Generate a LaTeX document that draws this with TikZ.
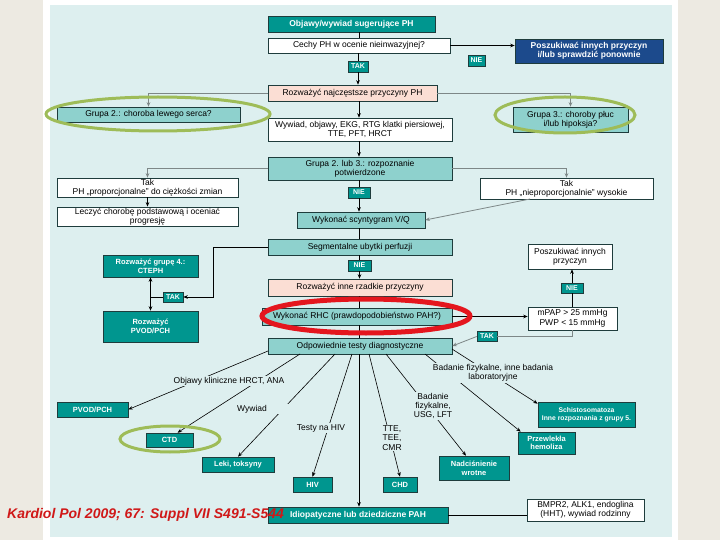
\documentclass[tikz,border=0pt]{standalone}
\usepackage{fontspec}
\setmainfont{Liberation Sans}
\usetikzlibrary{arrows.meta,calc}
\definecolor{bgc}{RGB}{221,239,239}
\definecolor{beige}{RGB}{237,234,226}
\definecolor{tealc}{RGB}{0,150,143}
\definecolor{ltealc}{RGB}{142,209,205}
\definecolor{pinkc}{RGB}{251,222,212}
\definecolor{dbluec}{RGB}{28,74,140}
\definecolor{bordc}{RGB}{30,60,60}
\definecolor{grayc}{RGB}{125,135,135}
\definecolor{greenc}{RGB}{158,188,88}
\definecolor{redc}{RGB}{228,22,30}
\definecolor{citec}{RGB}{208,24,24}
\newcommand{\regf}{\fontsize{8.5}{9.2}\selectfont}
\newcommand{\boldf}{\fontsize{8.5}{9.5}\selectfont\bfseries}
\newcommand{\smallbf}{\fontsize{7.5}{8.6}\selectfont\bfseries}
\tikzset{
 bx/.style={draw=bordc, line width=0.6pt, inner sep=1pt, align=center, font=\regf},
 wbox/.style={bx, fill=white},
 lbox/.style={bx, fill=ltealc},
 pbox/.style={bx, fill=pinkc},
 tbox/.style={bx, fill=tealc, text=white, font=\boldf},
 sbox/.style={bx, fill=tealc, text=white, font=\smallbf},
 bbox/.style={bx, fill=dbluec, text=white, font=\boldf},
 lab/.style={bx, fill=tealc, text=white, font=\fontsize{7}{7.5}\selectfont\bfseries, inner sep=0pt},
 flab/.style={fill=bgc, inner sep=1pt, align=center, font=\regf},
 arr/.style={-{Stealth[length=4.5pt,width=3.6pt]}},
 darr/.style={{Stealth[length=4.5pt,width=3.6pt]}-{Stealth[length=4.5pt,width=3.6pt]}},
 gl/.style={draw=grayc, line width=0.8pt},
 bl/.style={draw=black, line width=0.6pt},
}
\begin{document}
\begin{tikzpicture}[x=1pt,y=-1pt]
\useasboundingbox (0,0) rectangle (720,540);
\fill[white] (0,0) rectangle (720,540);
\fill[beige] (0,0) rectangle (43,540);
\fill[beige] (678,0) rectangle (720,540);
\fill[bgc] (50,5) rectangle (672,537);

% ---------- boxes ----------
\node[tbox, minimum width=167, minimum height=16] (obj) at (351.5,24) {Objawy/wywiad sugerujące PH};
\node[wbox, minimum width=182, minimum height=15] (cechy) at (359,45.5) {Cechy PH w ocenie nieinwazyjnej?};
\node[bbox, minimum width=148, minimum height=24] (blue) at (589,51) {Poszukiwać innych przyczyn\\i/lub sprawdzić ponownie};
\node[lab, minimum width=17, minimum height=11] (nie1) at (476.5,60.5) {NIE};
\node[lab, minimum width=20, minimum height=11] (tak1) at (358,66.5) {TAK};
\node[pbox, minimum width=169, minimum height=16] (rozw) at (352.5,93) {Rozważyć najczęstsze przyczyny PH};
\node[lbox, minimum width=183, minimum height=15] (g2) at (148.5,114.5) {Grupa 2.: choroba lewego serca?};
\node[lbox, minimum width=115, minimum height=25] (g3) at (570.5,119.5) {Grupa 3.: choroby płuc\\i/lub hipoksja?};
\node[wbox, minimum width=184, minimum height=23] (wyw) at (360,129.5) {Wywiad, objawy, EKG, RTG klatki piersiowej,\\TTE, PFT, HRCT};
\node[lbox, minimum width=184, minimum height=23] (g23) at (360,168.5) {Grupa 2. lub 3.: rozpoznanie\\potwierdzone};
\node[wbox, minimum width=181, minimum height=19] (tprop) at (147.5,187.5) {Tak\\PH „proporcjonalne” do ciężkości zmian};
\node[wbox, minimum width=181, minimum height=19] (lecz) at (147.5,216.5) {Leczyć chorobę podstawową i oceniać\\progresję};
\node[lab, minimum width=22, minimum height=11] (nie2) at (359,192.5) {NIE};
\node[lbox, minimum width=128, minimum height=16] (vq) at (361,220) {Wykonać scyntygram V/Q};
\node[wbox, minimum width=173, minimum height=21] (tnie) at (566.5,188.5) {Tak\\PH „nieproporcjonalnie” wysokie};
\node[lbox, minimum width=184, minimum height=16] (segm) at (360,247) {Segmentalne ubytki perfuzji};
\node[sbox, minimum width=95, minimum height=22] (cteph) at (150.5,266) {Rozważyć grupę 4.:\\CTEPH};
\node[sbox, minimum width=95, minimum height=31] (pvod) at (150.5,326.5) {Rozważyć\\PVOD/PCH};
\node[lab, minimum width=20, minimum height=10] (tak2) at (173,297) {TAK};
\node[lab, minimum width=23, minimum height=11] (nie3) at (359.5,265.5) {NIE};
\node[pbox, minimum width=184, minimum height=17] (rzad) at (360,287.5) {Rozważyć inne rzadkie przyczyny};
\node[lbox, minimum width=190, minimum height=17] (rhc) at (357,316.5) {Wykonać RHC (prawdopodobieństwo PAH?)};
\node[wbox, minimum width=89, minimum height=23] (mpap) at (572.5,318.5) {mPAP > 25 mmHg\\PWP < 15 mmHg};
\node[lab, minimum width=22, minimum height=10] (nie4) at (572,288) {NIE};
\node[wbox, minimum width=84, minimum height=25] (posz2) at (570,256.5) {Poszukiwać innych\\przyczyn};
\node[lab, minimum width=20, minimum height=10] (tak3) at (487,336.5) {TAK};
\node[lbox, minimum width=184, minimum height=16] (odp) at (360,346) {Odpowiednie testy diagnostyczne};
\node[sbox, minimum width=71, minimum height=15] (pvodb) at (92.5,409.5) {PVOD/PCH};
\node[sbox, minimum width=47, minimum height=14] (ctd) at (169.5,440) {CTD};
\node[sbox, minimum width=72, minimum height=15] (leki) at (238,464.5) {Leki, toksyny};
\node[sbox, minimum width=39, minimum height=15] (hiv) at (312.5,484.5) {HIV};
\node[sbox, minimum width=34, minimum height=15] (chd) at (400,484.5) {CHD};
\node[sbox, minimum width=70, minimum height=24] (nadc) at (474,468) {Nadciśnienie\\wrotne};
\node[sbox, minimum width=57, minimum height=22] (hemo) at (546.5,443) {Przewlekła\\hemoliza};
\node[sbox, font=\fontsize{6.8}{8.4}\selectfont\bfseries, minimum width=97, minimum height=25] (schi) at (586.5,414.5) {Schistosomatoza\\Inne rozpoznania z grupy 5.};
\node[tbox, minimum width=180, minimum height=16] (idio) at (358,515) {Idiopatyczne lub dziedziczne PAH};
\node[wbox, minimum width=117, minimum height=22] (bmpr) at (585.5,510) {BMPR2, ALK1, endoglina\\(HHT), wywiad rodzinny};

% ---------- helper coordinates ----------
\coordinate (cx) at (359,0);
\coordinate (tnA) at (530,199);
\coordinate (k1) at (213,247);
\coordinate (s1) at (268,351);
\coordinate (s2) at (300,354);
\coordinate (s3) at (335,354);
\coordinate (s4) at (352,354);
\coordinate (s5) at (369,354);
\coordinate (s6) at (386,354);
\coordinate (s7) at (425,354);
\coordinate (s8) at (452,349);

% ---------- connectors ----------
\draw[bl] (obj.south -| cx) -- (cechy.north -| cx);
\draw[bl] (cechy.south -| tak1) -- (tak1.north);
\draw[bl,arr] (tak1.south) -- (rozw.north -| tak1);
\draw[bl,arr] (cechy.east) -- (cechy.east -| blue.west);
\draw[gl,arr] (rozw.west) -| (g2.north);
\draw[gl,arr] (rozw.east) -| (g3.north);
\draw[bl,arr] (rozw.south -| cx) -- (wyw.north -| cx);
\draw[bl,arr] (wyw.south -| cx) -- (g23.north -| cx);
\draw[gl,arr] (g23.west) -| (tprop.north);
\draw[gl,arr] (g23.east) -| (tnie.north);
\draw[bl,arr] (tprop.south) -- (lecz.north);
\draw[bl] (g23.south -| nie2) -- (nie2.north);
\draw[bl,arr] (nie2.south) -- (vq.north -| nie2);
\draw[gl,arr] (tnA) -- (vq.east);
\draw[bl] (vq.south -| cx) -- (segm.north -| cx);
\draw[bl,arr] (segm.west) -- (k1) |- (tak2.east);
\draw[bl] (tak2.west) -- (tak2.west -| cteph.south);
\draw[bl,darr] (cteph.south) -- (pvod.north);
\draw[bl] (segm.south -| nie3) -- (nie3.north);
\draw[bl,arr] (nie3.south) -- (rzad.north -| nie3);
\draw[bl] (rzad.south -| cx) -- (rhc.north -| cx);
\draw[bl] (rhc.south -| cx) -- (odp.north -| cx);
\draw[bl,arr] (rhc.east) -- (rhc.east -| mpap.west);
\draw[bl] (mpap.north -| nie4) -- (nie4.south);
\draw[bl,arr] (nie4.north) -- (posz2.south -| nie4);
\draw[gl] (mpap.south) |- (tak3.east);
\draw[gl,arr] (tak3.west) -- (odp.east);
\draw[bl,arr] (odp.south -| cx) -- (idio.north -| cx);
\draw[bl] (idio.east) -- (idio.east -| bmpr.west);

% fan of tests
\draw[bl,arr] (s1) -- (pvodb.east);
\draw[bl,arr] (s2) -- ($(ctd.north)+(8,0)$);
\draw[bl,arr] (s3) -- (leki.north);
\draw[bl,arr] (s4) -- (hiv.north);
\draw[bl,arr] (s5) -- (chd.north);
\draw[bl,arr] (s6) -- ($(nadc.north)+(-8,0)$);
\draw[bl,arr] (s7) -- ($(hemo.north west)+(3,0)$);
\draw[bl,arr] (s8) -- ($(schi.north west)+(0,2)$);

% labels on the fan (masking the lines)
\node[flab] (la) at (229,381) {Objawy kliniczne HRCT, ANA};
\node[fill=bgc, inner sep=1pt, font=\regf, anchor=west] (lb) at (236,409) {Wywiad\hspace{22pt}\mbox{}};
\node[flab] (lc) at (321,428) {Testy na HIV};
\node[flab] (ld) at (392,438) {TTE,\\TEE,\\CMR};
\node[flab] (le) at (433,406) {Badanie\\fizykalne,\\USG, LFT};
\node[flab] (lf) at (493,373) {Badanie fizykalne, inne badania\\laboratoryjne};

% ---------- highlight ellipses ----------
\draw[greenc, line width=3pt] (158,114) ellipse [x radius=112, y radius=17];
\draw[greenc, line width=3pt] (565,115) ellipse [x radius=70, y radius=18];
\draw[greenc, line width=3pt] (170,439) ellipse [x radius=50, y radius=13];
\draw[redc, line width=5pt] (366,316) ellipse [x radius=104, y radius=17];

% ---------- citation ----------
\node[anchor=west, text=citec, font=\fontsize{14}{16}\selectfont\bfseries\itshape, inner sep=0pt] (cite) at (7,515) {Kardiol Pol 2009; 67: Suppl VII S491-S544};
\end{tikzpicture}
\end{document}
